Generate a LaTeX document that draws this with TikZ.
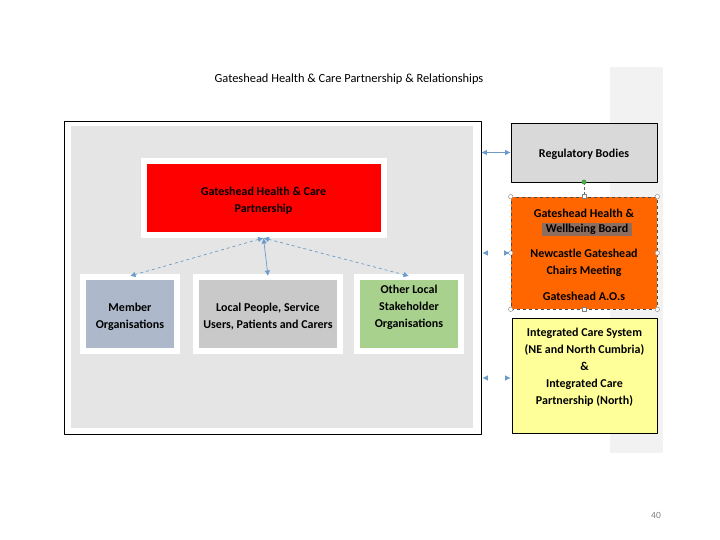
\documentclass[tikz,border=0pt]{standalone}
\usepackage{fontspec}
\setmainfont{Carlito}
\usetikzlibrary{arrows.meta}
\definecolor{linkblue}{HTML}{6A9BCB}
\definecolor{memberblue}{HTML}{ADB9CA}
\definecolor{peoplegray}{HTML}{C9C9C9}
\definecolor{othergreen}{HTML}{A9D18E}
\definecolor{hwborange}{HTML}{FF6600}
\definecolor{icpyellow}{HTML}{FFFF99}
\definecolor{markbrown}{HTML}{8C6D5E}
\tikzset{
  panel/.style={draw=white, line width=6pt, line join=miter},
  sidebox/.style={draw=black, line width=0.6pt},
  link/.style={linkblue, line width=0.7pt, {Latex[length=5.5pt,width=5.5pt]}-{Latex[length=5.5pt,width=5.5pt]}},
  tipsonly/.style={link, dash pattern=on 0pt off 60pt},
  handle/.style={circle, draw=gray, fill=white, line width=0.4pt, inner sep=0pt, minimum size=4.5pt}
}
\begin{document}
\begin{tikzpicture}[x=1pt, y=-1pt, font=\bfseries\fontsize{12}{17}\selectfont, line join=round]
  \useasboundingbox[fill=white] (0,0) rectangle (720,540);
  % title and page number
  \node[font=\fontsize{12.4}{15}\selectfont] (title) at (349,79) {Gateshead Health \& Care Partnership \& Relationships};
  \node[font=\fontsize{9.5}{11}\selectfont, text=gray] (page) at (656,515) {40};
  \fill[black!5] (610,67) rectangle (663,453);
  % left frame
  \node[draw, line width=0.8pt, fill=white, minimum width=417pt, minimum height=313pt] (frame) at (272.5,277.5) {};
  \node[fill=black!10, minimum width=402pt, minimum height=302pt] (inner) at (272,277) {};
  \node[panel, fill=red, minimum width=240pt, minimum height=74pt] (ghcp) at (263.5,198) {};
  \node[align=center] (ghcptext) at (263.5,201) {Gateshead Health \& Care\\Partnership};
  \node[panel, fill=memberblue, minimum width=94pt, minimum height=74pt] (member) at (130,314) {};
  \node[align=center] (membertext) at (130,317) {Member\\Organisations};
  \node[panel, fill=peoplegray, minimum width=144pt, minimum height=74pt] (people) at (268,314) {};
  \node[align=center] (peopletext) at (268,317) {Local People, Service\\Users, Patients and Carers};
  \node[panel, fill=othergreen, minimum width=104pt, minimum height=74pt] (other) at (409,314) {};
  \node[align=center] (othertext) at (409,307) {Other Local\\Stakeholder\\Organisations};
  \draw[link, dashed] (ghcp.south) -- ([yshift=-2pt]member.north);
  \draw[link] (ghcp.south) -- ([yshift=-2pt]people.north);
  \draw[link, dashed] (ghcp.south) -- ([yshift=-2pt]other.north);
  % right column
  \node[sidebox, fill=black!15, minimum width=146pt, minimum height=59pt] (reg) at (584,152.5) {};
  \node (regtext) at (584,154.5) {Regulatory Bodies};
  \node[draw=black!70, dashed, line width=0.6pt, fill=hwborange, minimum width=146pt, minimum height=112pt] (hwb) at (584,253) {};
  \node (hwbtop) at (584,213) {Gateshead Health \&};
  \node[fill=markbrown, inner sep=1.5pt, minimum width=90pt] (hwbmark) at (587,229.5) {Wellbeing Board};
  \node[align=center] (chairs) at (584,262.5) {Newcastle Gateshead\\Chairs Meeting};
  \node (aos) at (584,296) {Gateshead A.O.s};
  \node[sidebox, fill=icpyellow, minimum width=145pt, minimum height=115pt] (icp) at (584.5,375.5) {};
  \node[align=center] (icptext) at (584.5,367.5) {Integrated Care System\\(NE and North Cumbria)\\\&\\Integrated Care\\Partnership (North)};
  % selection handles
  \coordinate (rot) at (584,182);
  \draw[densely dashed, black!60, line width=0.5pt] (rot) -- (hwb.north);
  \fill[green!50!black!70] (rot) circle (2.5pt);
  \foreach \a in {north west, north east, south west, south east, west, east}
    \node[handle] at (hwb.\a) {};
  \foreach \a in {north, south}
    \node[handle, rectangle, minimum size=4pt] at (hwb.\a) {};
  % links to the right column
  \draw[link] (frame.east |- reg.west) -- (reg.west);
  \draw[tipsonly] ([xshift=1pt]frame.east |- hwb.west) -- ([xshift=-1pt]hwb.west);
  \draw[tipsonly] ([xshift=1pt]frame.east |- 0,378) -- ([xshift=-1pt]icp.west |- 0,378);
\end{tikzpicture}
\end{document}
